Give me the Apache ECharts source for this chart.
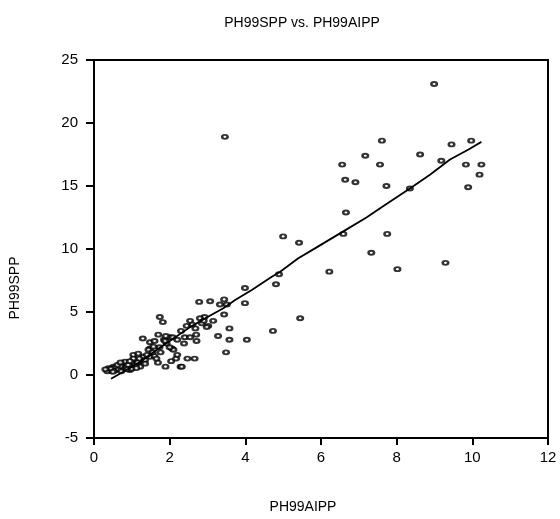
<!DOCTYPE html>
<html>
<head>
<meta charset="utf-8">
<script src="https://cdn.jsdelivr.net/npm/echarts@6/dist/echarts.min.js"></script>
<style>
  html, body { margin: 0; padding: 0; background: #fff; }
  #chart { width: 560px; height: 519px; }
</style>
</head>
<body>
<div id="chart"></div>
<script>
// observed points (PH99AIPP, PH99SPP)
const ph99aipp = [
  8.99, 7.61, 7.17, 6.56, 7.56, 8.62, 9.45, 9.97, 9.18, 9.83, 10.24, 10.19, 6.64, 6.91, 7.73, 8.35, 9.89, 6.66, 6.59, 7.75,
  3.46, 5.0, 5.42, 6.22, 7.33, 8.02, 9.29,
  3.99, 4.89, 4.81, 3.44, 3.99, 5.45, 4.73, 4.04, 3.49, 3.58, 3.58, 3.28, 3.44, 3.33, 3.51, 3.07, 2.78, 2.92, 2.80, 2.54, 3.15,
  3.02, 2.98, 2.68, 2.45, 2.70, 2.71, 2.40, 2.38, 2.54, 1.74, 1.82, 1.29, 1.48, 1.04, 1.85, 2.01, 2.08, 1.92, 2.06, 1.73, 1.76,
  1.48, 1.48, 2.10, 2.04, 2.17, 2.47, 2.66, 2.29, 1.89, 1.69, 1.30, 1.30, 1.22, 1.04, 0.95, 0.78, 0.78, 0.60, 0.51, 0.42, 1.04,
  1.17, 1.44, 1.57, 1.88, 0.82, 0.56, 0.47,
  0.35, 0.38, 0.45, 0.55, 0.65, 0.70, 0.85, 0.90, 0.95, 1.10, 1.15, 1.20, 1.35, 1.40, 1.60, 1.55, 1.65, 1.35, 0.30, 0.50,
  0.62, 0.72, 0.88, 1.00, 1.12, 1.60, 1.70, 2.20, 2.30, 2.60, 2.85, 2.90, 1.90, 2.00, 0.70, 2.32, 2.20
]
const ph99spp = [
  23.1, 18.6, 17.4, 16.7, 16.7, 17.5, 18.3, 18.6, 17.0, 16.7, 16.7, 15.9, 15.5, 15.3, 15.0, 14.8, 14.9, 12.9, 11.2, 11.2,
  18.9, 11.0, 10.5, 8.2, 9.7, 8.4, 8.9,
  6.9, 8.0, 7.2, 6.0, 5.7, 4.5, 3.5, 2.8, 1.8, 3.7, 2.8, 3.1, 4.8, 5.6, 5.6, 5.85, 5.8, 4.6, 4.5, 4.3, 4.3,
  3.9, 3.8, 3.7, 3.9, 3.2, 2.7, 3.0, 2.5, 3.0, 4.6, 4.2, 2.9, 2.6, 1.6, 2.8, 3.0, 3.0, 2.5, 2.1, 2.2, 1.8,
  2.1, 1.45, 2.0, 1.1, 1.3, 1.3, 1.3, 0.66, 0.66, 0.98, 1.45, 1.06, 0.66, 0.93, 0.4, 0.93, 0.53, 0.53, 0.66, 0.4, 1.3,
  1.7, 2.0, 2.25, 2.7, 1.06, 0.61, 0.34,
  0.3, 0.55, 0.5, 0.35, 0.45, 0.7, 0.6, 0.8, 1.1, 0.8, 1.0, 1.3, 1.2, 1.6, 1.5, 1.8, 1.3, 0.9, 0.45, 0.25,
  0.8, 0.3, 0.45, 0.5, 0.55, 2.7, 3.2, 2.8, 3.5, 4.0, 4.1, 4.3, 3.1, 2.2, 1.0, 0.66, 1.6
]
// fitted curve
const fitX = [0.45, 0.8, 1.2, 1.66, 2.1, 2.54, 3.0, 3.42, 3.73, 4.17, 4.7, 4.92, 5.4, 5.84, 6.59, 7.2, 7.74, 8.35, 8.88, 9.41, 9.9, 10.24]
const fitY = [-0.3, 0.3, 1.0, 2.0, 2.9, 3.8, 4.6, 5.3, 5.95, 6.75, 7.8, 8.2, 9.26, 10.05, 11.4, 12.5, 13.6, 14.8, 15.9, 17.1, 17.9, 18.5]

const xTicks = [0, 12, 2]   // min, max, interval
const yTicks = [-5, 25, 5]

const chart = echarts.init(document.getElementById('chart'))
const font = 'Liberation Sans, Arial, sans-serif'

chart.setOption({
  animation: false,
  backgroundColor: '#fff',
  grid: {
    left: 94,
    right: 12,
    top: 60,
    bottom: 81,
    show: true,
    borderColor: '#000',
    borderWidth: 2
  },
  graphic: [
    {
      type: 'text',
      x: 302,
      y: 16,
      style: { text: 'PH99SPP vs. PH99AIPP', fill: '#000', font: '14px ' + font, textAlign: 'center' }
    },
    {
      type: 'text',
      x: 303,
      y: 500,
      style: { text: 'PH99AIPP', fill: '#000', font: '14px ' + font, textAlign: 'center' }
    },
    {
      type: 'text',
      x: 8,
      y: 288,
      rotation: Math.PI / 2,
      style: { text: 'PH99SPP', fill: '#000', font: '14px ' + font, textAlign: 'center' }
    }
  ],
  xAxis: {
    type: 'value',
    min: xTicks[0],
    max: xTicks[1],
    interval: xTicks[2],
    axisLine: { show: true, onZero: false, lineStyle: { color: '#000', width: 2 } },
    axisTick: { show: true, inside: false, length: 7, lineStyle: { color: '#000', width: 2 } },
    axisLabel: { color: '#000', fontSize: 15, fontFamily: font, margin: 12 },
    splitLine: { show: false }
  },
  yAxis: {
    type: 'value',
    min: yTicks[0],
    max: yTicks[1],
    interval: yTicks[2],
    axisLine: { show: true, onZero: false, lineStyle: { color: '#000', width: 2 } },
    axisTick: { show: true, inside: false, length: 8, lineStyle: { color: '#000', width: 2 } },
    axisLabel: { color: '#000', fontSize: 15, fontFamily: font, margin: 16 },
    splitLine: { show: false }
  },
  series: [
    {
      type: 'scatter',
      symbol: 'circle',
      symbolSize: [5.5, 4],
      itemStyle: { color: '#fff', borderColor: '#000', borderWidth: 2.2 },
      data: ph99aipp.map((x, i) => [x, ph99spp[i]]),
      z: 3
    },
    {
      type: 'line',
      showSymbol: false,
      lineStyle: { color: '#000', width: 1.8 },
      data: fitX.map((x, i) => [x, fitY[i]]),
      z: 4
    }
  ]
})
</script>
</body>
</html>
